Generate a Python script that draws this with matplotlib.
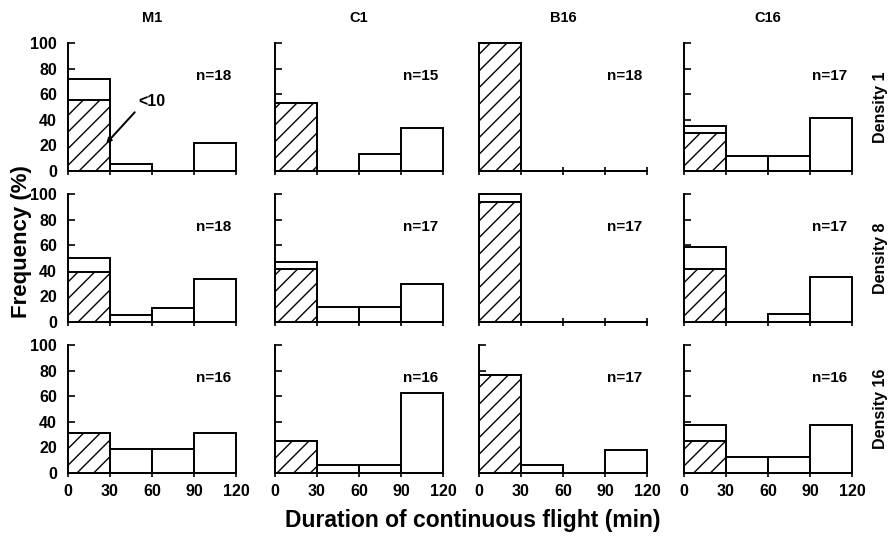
import matplotlib
matplotlib.use('Agg')
import matplotlib.pyplot as plt

plt.rcParams['font.family'] = ['Liberation Sans', 'DejaVu Sans']
plt.rcParams['font.weight'] = 'bold'
plt.rcParams['hatch.linewidth'] = 1.0

strains = ['M1', 'C1', 'B16', 'C16']
densities = ['Density 1', 'Density 8', 'Density 16']
bin_left = [0, 30, 60, 90]
x_ticks = [0, 30, 60, 90, 120]
y_ticks = [0, 20, 40, 60, 80, 100]

# total frequency (%) per 30-min bin; one list per strain (M1, C1, B16, C16)
total_d1 = [[72.2, 5.6, 0, 22.2], [53.3, 0, 13.3, 33.3], [100, 0, 0, 0], [35.3, 11.8, 11.8, 41.2]]
total_d8 = [[50.0, 5.6, 11.1, 33.3], [47.1, 11.8, 11.8, 29.4], [100, 0, 0, 0], [58.8, 0, 5.9, 35.3]]
total_d16 = [[31.25, 18.75, 18.75, 31.25], [25.0, 6.25, 6.25, 62.5], [76.5, 5.9, 0, 17.6], [37.5, 12.5, 12.5, 37.5]]

# hatched part of first bin (flights < 10 min)
short_d1 = [55.6, 53.3, 100, 29.4]
short_d8 = [38.9, 41.2, 94.1, 41.2]
short_d16 = [31.25, 25.0, 76.5, 25.0]

# sample sizes
n_d1 = [18, 15, 18, 17]
n_d8 = [18, 17, 17, 17]
n_d16 = [16, 16, 17, 16]

totals = [total_d1, total_d8, total_d16]
shorts = [short_d1, short_d8, short_d16]
ns = [n_d1, n_d8, n_d16]

W, H = 890, 536
fig = plt.figure(figsize=(W / 100, H / 100), dpi=100)

col_left = [68, 275, 479, 684]
col_w = 168
row_top = [43, 194, 345]
row_h = 128

for r in range(3):
    for c in range(4):
        ax = fig.add_axes([col_left[c] / W, 1 - (row_top[r] + row_h) / H, col_w / W, row_h / H])
        ax.bar(bin_left, totals[r][c], width=30, align='edge', facecolor='white',
               edgecolor='black', linewidth=1.4, clip_on=False, zorder=2)
        ax.bar([bin_left[0]], [shorts[r][c]], width=30, align='edge', facecolor='white',
               edgecolor='black', linewidth=1.4, hatch='//', clip_on=False, zorder=3)
        ax.set_xlim(0, 120)
        ax.set_ylim(0, 100)
        for s in ['top', 'right']:
            ax.spines[s].set_visible(False)
        for s in ['left', 'bottom']:
            ax.spines[s].set_linewidth(1.4)
        ax.set_xticks(x_ticks)
        ax.set_yticks(y_ticks)
        ax.tick_params(axis='y', direction='in', length=5, width=1.2, labelsize=11.5, pad=8)
        ax.tick_params(axis='x', direction='inout', length=6, width=1.2, labelsize=11.5, pad=5)
        if c != 0:
            ax.set_yticklabels([])
        if r != 2:
            ax.set_xticklabels([])
        for lab in ax.get_xticklabels() + ax.get_yticklabels():
            lab.set_fontweight('bold')
        ax.text(104, 74, f'n={ns[r][c]}', ha='center', va='center', fontsize=11, fontweight='bold')
        if r == 0 and c == 0:
            ax.annotate('', xy=(26, 20), xytext=(49, 47.5),
                        arrowprops=dict(arrowstyle='-|>', lw=1.4, color='black', mutation_scale=7),
                        zorder=5)
            ax.text(50, 54, '<10', ha='left', va='center', fontsize=11.5, fontweight='bold')

for c in range(4):
    fig.text((col_left[c] + col_w / 2) / W, 1 - 18 / H, strains[c], ha='center', va='center',
             fontsize=10.5, fontweight='bold')

for r in range(3):
    fig.text(881 / W, 1 - (row_top[r] + row_h / 2) / H, densities[r], rotation=90,
             ha='center', va='center', fontsize=11.5, fontweight='bold')

fig.text(22 / W, 1 - 242 / H, 'Frequency (%)', rotation=90, ha='center', va='center',
         fontsize=16, fontweight='bold')
fig.text(473 / W, 1 - 521 / H, 'Duration of continuous flight (min)', ha='center', va='center',
         fontsize=16.5, fontweight='bold')

fig.savefig('out.png', dpi=100)
